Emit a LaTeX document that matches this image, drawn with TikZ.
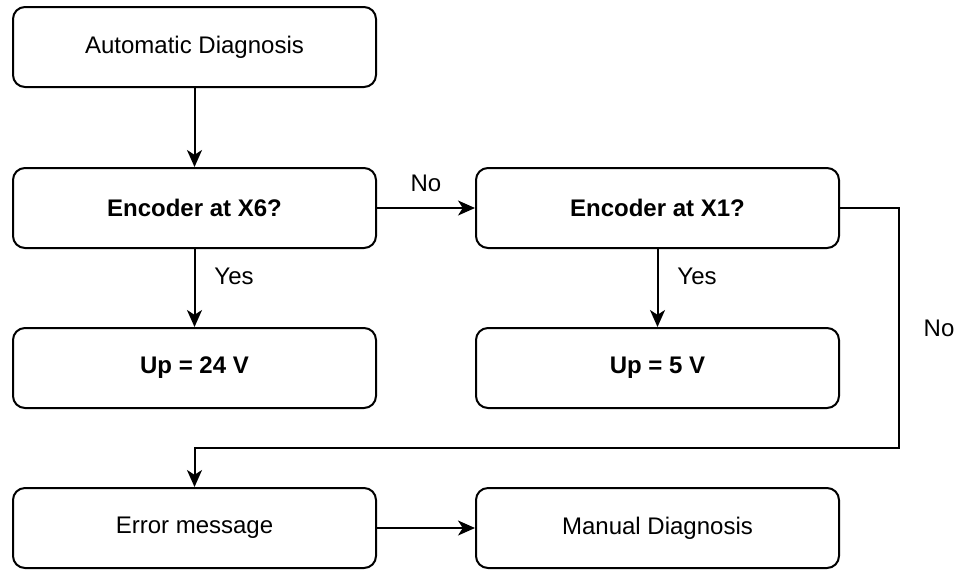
\documentclass[tikz,border=0pt]{standalone}
\usepackage{fontspec}
\setmainfont{Liberation Sans}
\usetikzlibrary{positioning,arrows.meta}

\begin{document}
\begin{tikzpicture}[
  x=0.5pt, y=-0.5pt,
  box/.style={draw, rounded corners=6pt, line width=1pt, minimum width=181.5pt, minimum height=40pt, font=\fontsize{12}{14}\selectfont},
  boldbox/.style={box, font=\fontsize{12}{14}\selectfont\bfseries},
  lbl/.style={font=\fontsize{12}{14}\selectfont, inner sep=1pt},
  flow/.style={draw, line width=1pt, -{Stealth[length=8.5pt, width=7.5pt, inset=2.4pt]}}
]
\useasboundingbox (0,0) rectangle (956,569);

\node[box] (auto) at (194.5, 47) {Automatic Diagnosis};
\node[boldbox] (enc6) at (194.5, 208) {Encoder at X6?};
\node[boldbox] (enc1) at (657.5, 208) {Encoder at X1?};
\node[boldbox] (up24) at (194.5, 368) {Up = 24 V};
\node[boldbox] (up5) at (657.5, 368) {Up = 5 V};
\node[box] (err) at (194.5, 528) {Error message};
\node[box] (man) at (657.5, 528) {Manual Diagnosis};
\coordinate (turn) at (899, 448);

\draw[flow] (auto) -- (enc6);
\draw[flow] (enc6) -- (enc1);
\draw[flow] (enc6) -- (up24);
\draw[flow] (enc1) -- (up5);
\draw[flow] (enc1.east) -| (turn) -| (err.north);
\draw[flow] (err) -- (man);

\node[lbl] (lno1) at (426, 183) {No};
\node[lbl] (lyes1) at (234, 276) {Yes};
\node[lbl] (lyes2) at (697, 276) {Yes};
\node[lbl] (lno2) at (939, 328) {No};

\end{tikzpicture}
\end{document}
